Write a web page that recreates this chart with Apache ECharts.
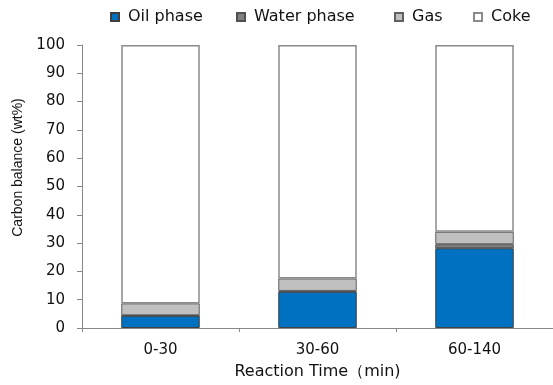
<!DOCTYPE html>
<html>
<head>
<meta charset="utf-8">
<script src="https://cdn.jsdelivr.net/npm/echarts@6/dist/echarts.min.js"></script>
<style>html,body{margin:0;padding:0;background:#fff}#c{width:553px;height:385px}</style>
</head>
<body>
<div id="c"></div>
<script>
const categories = ['0-30', '30-60', '60-140'];
const oilPhase = [4.3, 12.8, 28.2];
const waterPhase = [0.2, 0.3, 1.4];
const gas = [4.2, 4.4, 4.4];
const coke = [91.3, 82.5, 66.0];
const seriesNames = ['Oil phase', 'Water phase', 'Gas', 'Coke'];
const yTicks = [0, 10, 20, 30, 40, 50, 60, 70, 80, 90, 100];

const FONT = 'DejaVu Sans';
const colors = ['#0070C0', '#808080', '#C0C0C0', '#FFFFFF'];
const borders = ['#404040', '#505050', '#606060', '#8a8a8a'];
const dataSets = [oilPhase, waterPhase, gas, coke];
const legendLeft = [110, 236, 394, 473];

const chart = echarts.init(document.getElementById('c'), null, {renderer: 'canvas'});
chart.setOption({
  animation: false,
  backgroundColor: '#fff',
  legend: seriesNames.map((n, i) => ({
    data: [n],
    left: legendLeft[i],
    top: 9,
    itemWidth: 8,
    itemHeight: 8,
    icon: 'rect',
    padding: 0,
    textStyle: {fontFamily: FONT, fontSize: 16, color: '#111', padding: [0, 0, 0, 4]}
  })),
  grid: {left: 82, right: 0, top: 45, bottom: 56, containLabel: false},
  xAxis: {
    type: 'category',
    data: categories,
    name: 'Reaction Time（min)',
    nameLocation: 'middle',
    nameGap: 36,
    nameTextStyle: {fontFamily: FONT, fontSize: 16, color: '#111'},
    axisLine: {lineStyle: {color: '#888', width: 1}},
    axisTick: {show: true, length: 4, lineStyle: {color: '#888'}},
    axisLabel: {fontFamily: FONT, fontSize: 15, color: '#111', margin: 15}
  },
  yAxis: {
    type: 'value',
    min: yTicks[0],
    max: yTicks[yTicks.length - 1],
    interval: 10,
    name: 'Carbon balance (wt%)',
    nameLocation: 'middle',
    nameGap: 57,
    nameTextStyle: {fontFamily: 'Liberation Sans', fontSize: 14, color: '#111', padding: [0, 0, 0, 38]},
    axisLine: {show: true, lineStyle: {color: '#888', width: 1}},
    axisTick: {show: true, length: 5, lineStyle: {color: '#888'}},
    splitLine: {show: false},
    axisLabel: {fontFamily: FONT, fontSize: 15, color: '#111', margin: 17}
  },
  series: seriesNames.map((n, i) => ({
    name: n,
    type: 'bar',
    stack: 'total',
    barWidth: '50%',
    data: dataSets[i],
    itemStyle: {color: colors[i], borderColor: borders[i], borderWidth: i === 3 ? 1.5 : 1}
  }))
});
</script>
</body>
</html>
